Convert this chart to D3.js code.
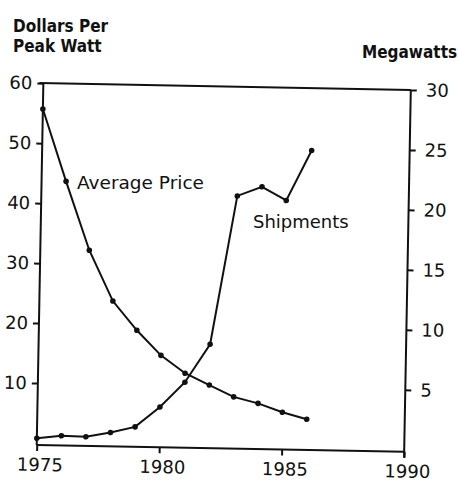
<!DOCTYPE html>
<html>
<head>
<meta charset="utf-8">
<script src="https://cdn.jsdelivr.net/npm/d3@7"></script>
<style>
  body { margin: 0; background: #fff; }
  .tick text { font-family: "DejaVu Sans", sans-serif; font-size: 18px; fill: #111; }
  .tick line { stroke: #111; stroke-width: 2; }
  .lbl { font-family: "DejaVu Sans", sans-serif; fill: #111; }
  .ttl { font-family: "DejaVu Sans Condensed", "DejaVu Sans", sans-serif; font-weight: bold; fill: #111; }
</style>
</head>
<body>
<div id="chart"></div>
<script>
  // values
  const years = [1975, 1976, 1977, 1978, 1979, 1980, 1981, 1982, 1983, 1984, 1985, 1986];
  const price = [55.7, 43.7, 32.3, 23.9, 19.1, 15.0, 12.1, 10.2, 8.3, 7.3, 5.9, 4.8];
  const shipments = [0.4, 0.65, 0.6, 1.0, 1.5, 3.2, 5.3, 8.5, 20.9, 21.7, 20.6, 24.8];
  const yearTicks = [1975, 1980, 1985, 1990];
  const priceTicks = [10, 20, 30, 40, 50, 60];
  const mwTicks = [5, 10, 15, 20, 25, 30];

  const width = 458, height = 482;

  const x = d3.scaleLinear().domain([1975, 1990]).range([40, 407.5]);
  const yL = d3.scaleLinear().domain([0, 60]).range([446.5, 86.5]);
  const yR = d3.scaleLinear().domain([0, 30]).range([446.5, 86.5]);
  const bottom = 448.5;

  const svg = d3.select("#chart").append("svg")
    .attr("width", width)
    .attr("height", height);

  // the scan is tilted about a degree
  const g = svg.append("g")
    .attr("transform", "rotate(1.05, 224, 268)");

  g.append("g")
    .attr("transform", "translate(" + x(1975) + ",0)")
    .call(d3.axisLeft(yL).tickValues(priceTicks).tickSize(6).tickPadding(5).tickFormat(d3.format("d")))
    .call(a => a.select(".domain").remove());

  g.append("g")
    .attr("transform", "translate(" + x(1990) + ",0)")
    .call(d3.axisRight(yR).tickValues(mwTicks).tickSize(6).tickPadding(9).tickFormat(d3.format("d")))
    .call(a => a.select(".domain").remove());

  g.append("g")
    .attr("transform", "translate(0," + bottom + ")")
    .call(d3.axisBottom(x).tickValues(yearTicks).tickSize(6).tickPadding(7).tickFormat(d3.format("d")))
    .call(a => a.select(".domain").remove())
    .call(a => a.selectAll("text").attr("dx", "3"));

  // frame
  const frame = [
    [x(1975) - 4, yL(60), x(1990), yL(60)],
    [x(1975), yL(60), x(1975), bottom],
    [x(1990), yL(60), x(1990), bottom + 6],
    [x(1975), bottom, x(1990), bottom]
  ];
  g.selectAll(".frame")
    .data(frame)
    .enter().append("line")
    .attr("class", "frame")
    .attr("x1", d => d[0]).attr("y1", d => d[1])
    .attr("x2", d => d[2]).attr("y2", d => d[3])
    .attr("stroke", "#111")
    .attr("stroke-width", 2);

  const priceLine = d3.line()
    .x((d, i) => x(years[i]))
    .y(d => yL(d));
  const shipLine = d3.line()
    .x((d, i) => x(years[i]))
    .y(d => yR(d));

  g.append("path").datum(price)
    .attr("d", priceLine)
    .attr("fill", "none").attr("stroke", "#111").attr("stroke-width", 2);
  g.append("path").datum(shipments)
    .attr("d", shipLine)
    .attr("fill", "none").attr("stroke", "#111").attr("stroke-width", 2);

  g.selectAll(".pdot").data(price).enter().append("circle")
    .attr("class", "pdot")
    .attr("cx", (d, i) => x(years[i]))
    .attr("cy", d => yL(d))
    .attr("r", 2.8).attr("fill", "#111");
  g.selectAll(".sdot").data(shipments).enter().append("circle")
    .attr("class", "sdot")
    .attr("cx", (d, i) => x(years[i]))
    .attr("cy", d => yR(d))
    .attr("r", 2.8).attr("fill", "#111");

  // series labels
  svg.append("text").attr("class", "lbl")
    .attr("x", 77).attr("y", 189)
    .style("font-size", "18.5px")
    .text("Average Price");
  svg.append("text").attr("class", "lbl")
    .attr("x", 253).attr("y", 228)
    .style("font-size", "18px")
    .text("Shipments");

  // axis titles
  svg.append("text").attr("class", "ttl")
    .attr("x", 13).attr("y", 32)
    .style("font-size", "17px")
    .text("Dollars Per");
  svg.append("text").attr("class", "ttl")
    .attr("x", 13).attr("y", 52)
    .style("font-size", "17px")
    .text("Peak Watt");
  svg.append("text").attr("class", "ttl")
    .attr("x", 362).attr("y", 58)
    .style("font-size", "17px")
    .text("Megawatts");
</script>
</body>
</html>
